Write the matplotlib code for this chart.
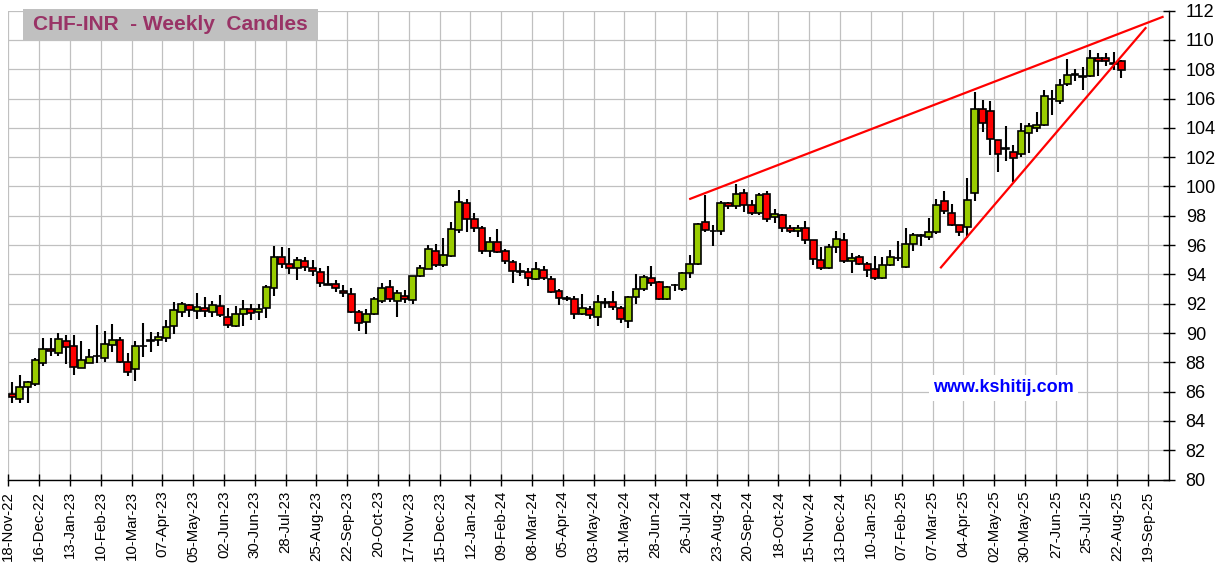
import numpy as np
import matplotlib
matplotlib.use("Agg")
import matplotlib.pyplot as plt
from matplotlib.patches import Rectangle

plt.rcParams['font.family'] = ['Liberation Sans', 'DejaVu Sans']

# weekly OHLC (18-Nov-22 .. 22-Aug-25)
opens = [85.86, 85.52, 86.34, 86.55, 87.98, 88.93, 88.66, 89.48, 89.14, 87.64,
         87.98, 88.40, 88.32, 89.16, 89.55, 88.00, 87.52, 89.11, 89.50, 89.55,
         89.65, 90.45, 91.46, 91.91, 91.48, 91.71, 91.43, 91.82, 91.09, 90.45,
         91.32, 91.64, 91.43, 91.71, 93.08, 95.20, 94.72, 94.45, 94.90, 94.45,
         94.13, 93.36, 93.32, 92.84, 92.64, 91.40, 90.72, 91.29, 92.19, 93.16,
         92.19, 92.55, 92.26, 93.90, 94.40, 95.60, 94.67, 95.26, 97.04, 98.87,
         97.81, 97.20, 95.62, 96.19, 95.60, 94.83, 94.24, 94.17, 93.70, 94.31,
         93.70, 92.89, 92.39, 92.35, 91.27, 91.65, 91.11, 92.10, 92.13, 91.69,
         90.85, 92.43, 93.03, 93.78, 93.51, 92.31, 93.30, 92.99, 94.11, 94.72,
         97.55, 96.99, 96.97, 98.90, 98.67, 99.55, 98.76, 98.16, 99.50, 97.91,
         98.07, 97.16, 96.93, 97.16, 96.32, 94.95, 94.43, 95.86, 96.32, 94.93,
         95.18, 94.70, 94.36, 93.75, 94.61, 95.14, 94.48, 96.05, 96.65, 96.57,
         96.90, 99.03, 98.19, 97.36, 97.24, 99.55, 105.32, 105.14, 103.17, 102.60,
         102.33, 102.20, 103.62, 103.96, 104.19, 106.00, 105.81, 106.98, 107.59, 107.55,
         107.52, 108.74, 108.78, 108.42, 108.58]
highs = [86.68, 87.16, 86.75, 88.32, 89.68, 89.68, 89.98, 89.89, 89.84, 89.43,
         88.93, 90.52, 90.11, 90.59, 89.73, 88.66, 89.43, 90.70, 90.09, 90.09,
         90.91, 92.10, 92.14, 92.00, 92.74, 92.46, 92.21, 92.62, 91.71, 91.82,
         92.26, 91.98, 92.00, 93.26, 95.93, 95.89, 95.77, 95.16, 95.16, 94.95,
         94.47, 94.56, 93.61, 93.25, 93.05, 91.58, 91.63, 92.48, 93.39, 93.61,
         92.93, 92.93, 93.92, 94.63, 95.98, 96.05, 96.50, 97.56, 99.75, 99.17,
         98.22, 97.30, 96.52, 97.07, 95.71, 94.99, 94.76, 94.42, 94.88, 94.58,
         93.86, 93.00, 92.50, 92.50, 92.66, 91.83, 92.62, 92.39, 92.88, 91.87,
         92.50, 94.00, 93.93, 94.56, 93.55, 93.20, 93.33, 94.15, 95.35, 97.48,
         99.39, 97.37, 98.99, 98.94, 100.18, 99.84, 99.06, 99.55, 99.66, 98.48,
         98.10, 97.39, 97.39, 97.66, 96.35, 95.86, 96.09, 96.98, 96.82, 95.45,
         95.34, 94.82, 95.23, 95.16, 95.68, 96.30, 97.16, 96.82, 96.75, 97.86,
         99.14, 99.71, 98.81, 97.40, 100.57, 106.45, 105.93, 105.84, 103.20, 104.12,
         102.83, 104.35, 104.35, 105.10, 106.61, 106.57, 107.32, 108.67, 108.05, 108.16,
         109.31, 109.08, 109.12, 109.15, 108.60]
lows = [85.25, 85.25, 85.25, 86.39, 87.75, 88.43, 88.43, 87.86, 87.14, 87.60,
        87.93, 87.93, 88.02, 88.70, 87.98, 87.07, 86.73, 88.39, 88.70, 89.11,
        89.42, 89.93, 91.09, 91.09, 90.98, 91.09, 91.09, 91.09, 90.34, 90.40,
        90.45, 90.91, 90.91, 91.02, 92.51, 94.45, 94.04, 93.65, 94.22, 93.92,
        93.12, 93.27, 92.82, 92.48, 91.35, 90.11, 89.93, 91.25, 92.03, 92.10,
        91.08, 92.08, 91.96, 93.84, 94.38, 94.51, 94.51, 95.20, 96.82, 96.91,
        96.91, 95.40, 95.21, 95.49, 94.72, 93.41, 93.86, 93.18, 93.63, 93.63,
        92.73, 91.90, 92.17, 90.97, 91.20, 90.93, 90.47, 91.74, 91.60, 90.70,
        90.34, 91.98, 92.88, 93.21, 92.28, 92.28, 92.88, 92.88, 93.78, 94.67,
        96.92, 95.91, 96.70, 98.49, 98.43, 98.27, 98.04, 98.04, 97.55, 97.50,
        96.86, 96.82, 96.52, 96.09, 94.66, 94.32, 94.40, 95.45, 94.77, 94.09,
        94.66, 93.82, 93.59, 93.70, 94.58, 94.90, 94.43, 95.60, 95.93, 96.34,
        96.77, 98.13, 97.33, 96.61, 96.50, 98.99, 103.74, 102.15, 101.02, 101.77,
        100.34, 102.04, 102.27, 103.74, 104.15, 104.85, 105.65, 106.84, 107.21, 106.61,
        107.48, 107.52, 108.23, 107.94, 107.41]
closes = [85.66, 86.34, 86.68, 88.18, 88.93, 88.75, 89.61, 89.07, 87.70, 88.14,
          88.39, 88.45, 89.27, 89.50, 88.02, 87.36, 89.11, 89.08, 89.45, 89.73,
          90.41, 91.57, 91.98, 91.59, 91.78, 91.48, 91.89, 91.23, 90.57, 91.30,
          91.64, 91.37, 91.64, 93.15, 95.20, 94.72, 94.45, 94.97, 94.52, 94.22,
          93.39, 93.31, 93.05, 92.71, 91.40, 90.68, 91.29, 92.30, 93.09, 92.30,
          92.71, 92.30, 93.90, 94.45, 95.76, 94.67, 95.35, 97.11, 98.92, 97.81,
          97.20, 95.62, 96.19, 95.55, 94.92, 94.24, 94.18, 93.75, 94.36, 93.75,
          92.80, 92.39, 92.35, 91.31, 91.72, 91.22, 92.10, 92.06, 91.75, 90.97,
          92.43, 92.99, 93.84, 93.44, 92.31, 93.17, 93.26, 94.11, 94.72, 97.42,
          97.03, 96.95, 98.88, 98.67, 99.51, 98.76, 98.16, 99.44, 97.77, 98.14,
          97.16, 96.93, 97.16, 96.32, 95.05, 94.43, 95.86, 96.41, 94.93, 95.11,
          94.73, 94.32, 93.75, 94.61, 95.16, 95.10, 96.09, 96.66, 96.70, 96.90,
          98.74, 98.31, 97.36, 96.90, 99.05, 105.32, 104.30, 103.22, 102.20, 102.56,
          101.93, 103.81, 104.12, 104.19, 106.16, 105.95, 106.91, 107.64, 107.71, 107.50,
          108.78, 108.55, 108.55, 108.38, 107.94]

tick_labels = ['18-Nov-22', '16-Dec-22', '13-Jan-23', '10-Feb-23', '10-Mar-23', '07-Apr-23',
               '05-May-23', '02-Jun-23', '30-Jun-23', '28-Jul-23', '25-Aug-23', '22-Sep-23',
               '20-Oct-23', '17-Nov-23', '15-Dec-23', '12-Jan-24', '09-Feb-24', '08-Mar-24',
               '05-Apr-24', '03-May-24', '31-May-24', '28-Jun-24', '26-Jul-24', '23-Aug-24',
               '20-Sep-24', '18-Oct-24', '15-Nov-24', '13-Dec-24', '10-Jan-25', '07-Feb-25',
               '07-Mar-25', '04-Apr-25', '02-May-25', '30-May-25', '27-Jun-25', '25-Jul-25',
               '22-Aug-25', '19-Sep-25']

# hand drawn trend lines (week index, price)
upper_line_x = [87.9, 149.5]
upper_line_y = [99.13, 111.6]
lower_line_x = [120.5, 147.25]
lower_line_y = [94.42, 110.87]

o = np.array(opens)
h = np.array(highs)
l = np.array(lows)
c = np.array(closes)
x = np.arange(len(o))

fig = plt.figure(figsize=(12.15, 5.74), dpi=100)
ax = fig.add_axes([0.00683, 0.1646, 0.9553, 0.8168])

ax.vlines(x, l, h, color='black', linewidth=1.5, zorder=2)
body_lo = np.minimum(o, c)
body_h = np.maximum(np.abs(c - o), 0.04)
colors = np.where(c >= o, '#99CC00', '#FF0000')
ax.bar(x, body_h, bottom=body_lo, width=0.9, color=colors,
       edgecolor='black', linewidth=1.2, zorder=3)

ax.plot(upper_line_x, upper_line_y, color='#FF0000', linewidth=1.6, zorder=4,
        clip_on=False, solid_capstyle='butt')
ax.plot(lower_line_x, lower_line_y, color='#FF0000', linewidth=1.6, zorder=4,
        clip_on=False, solid_capstyle='butt')

ax.set_xlim(-0.5, 150.2)
ax.set_ylim(80, 112)
ax.set_xticks(np.arange(len(tick_labels)) * 4 - 0.5)
ax.set_xticklabels(tick_labels, rotation=90, fontsize=10.8)
ax.set_yticks(np.arange(80, 113, 2))
ax.yaxis.tick_right()
ax.tick_params(axis='y', direction='inout', length=8, width=1, pad=8, labelsize=13)
ax.tick_params(axis='x', direction='inout', length=8, width=1, pad=4)
ax.grid(True, color='#C0C0C0', linewidth=0.9, zorder=0)
ax.set_axisbelow(True)
for side in ['top', 'left']:
    ax.spines[side].set_visible(False)
for side in ['bottom', 'right']:
    ax.spines[side].set_linewidth(1)
    ax.spines[side].set_color('black')

# title box
fig.add_artist(Rectangle((23 / 1215, 1 - 40 / 574), 295 / 1215, 31 / 574,
                         transform=fig.transFigure, facecolor='#C0C0C0',
                         edgecolor='none', zorder=5))
fig.text(170.5 / 1215, 1 - 25 / 574, 'CHF-INR  - Weekly  Candles', fontsize=15,
         fontweight='bold', color='#993366', ha='center', va='center', zorder=6)

ax.text(1003.5 / 1215, 1 - 388 / 574, 'www.kshitij.com', transform=fig.transFigure,
        fontsize=13, fontweight='bold', color='#0000FF', ha='center', va='center',
        zorder=6, bbox=dict(facecolor='white', edgecolor='none', pad=3))

fig.savefig('out.png', dpi=100)
